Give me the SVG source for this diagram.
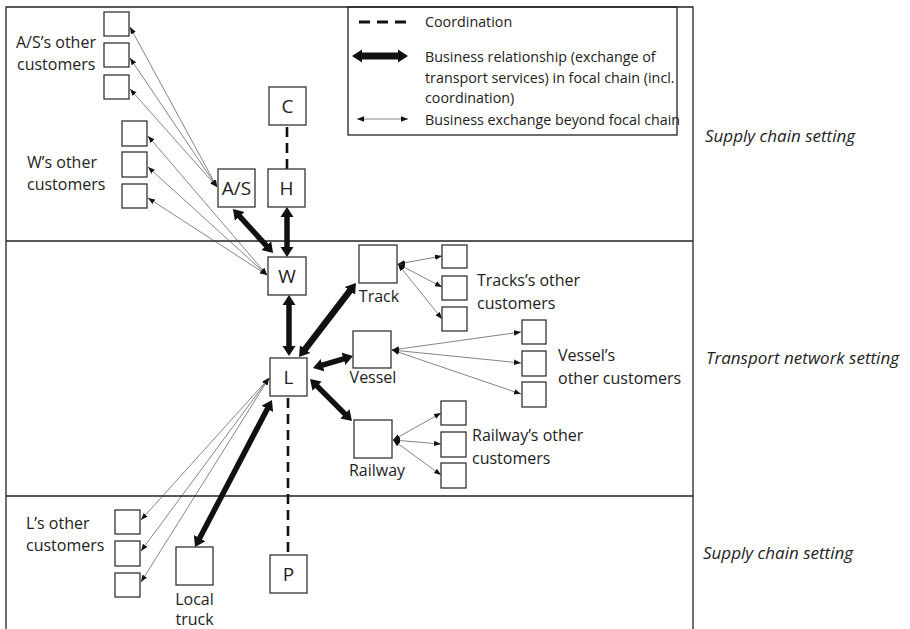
<svg xmlns="http://www.w3.org/2000/svg" width="910" height="629" viewBox="0 0 910 629">
<defs>
<marker id="hb" viewBox="0 -7 10 14" refX="1" refY="0" markerWidth="10" markerHeight="14" markerUnits="userSpaceOnUse" orient="auto-start-reverse"><path d="M0,-6.5 L10,0 L0,6.5 z" fill="#111"/></marker>
<marker id="ht" viewBox="0 -3 7 6" refX="7" refY="0" markerWidth="7" markerHeight="6" markerUnits="userSpaceOnUse" orient="auto-start-reverse"><path d="M0,-2.7 L7,0 L0,2.7 z" fill="#111"/></marker>
</defs>
<style>
.frame{fill:none;stroke:#222;stroke-width:1.3}
.box{fill:#fff;stroke:#333;stroke-width:1.3}
.lbl{font-family:"Open Sans","Liberation Sans",sans-serif;font-size:16px;fill:#222}
.nl{font-family:"Open Sans","Liberation Sans",sans-serif;font-size:19px;fill:#222;text-anchor:middle;dominant-baseline:central}
.leg{font-family:"Open Sans","Liberation Sans",sans-serif;font-size:14.3px;fill:#222}
.set{font-family:"Open Sans","Liberation Sans",sans-serif;font-size:17px;font-style:italic;fill:#222}
.thick{stroke:#111;stroke-width:5.5;fill:none;marker-start:url(#hb);marker-end:url(#hb)}
.thin{stroke:#333;stroke-width:0.6;fill:none;marker-start:url(#ht);marker-end:url(#ht)}
.dash{stroke:#111;stroke-width:2.6;stroke-dasharray:10,6;fill:none}
</style>
<rect width="910" height="629" fill="#fff"/>
<g id="frame">
<path class="frame" d="M6,629 V7 H693 V629 M6,241 H693 M6,496 H693"/>
</g>
<g id="legend">
<rect class="frame" x="348" y="7" width="329" height="128"/>
<line class="dash" x1="359" y1="22" x2="408" y2="22" style="stroke-width:3;stroke-dasharray:11,7"/>
<text class="leg" x="425" y="27">Coordination</text>
<line class="thick" x1="361" y1="56" x2="399" y2="56" style="stroke-width:7"/>
<text class="leg" x="425" y="62">Business relationship (exchange of</text>
<text class="leg" x="425" y="83">transport services) in focal chain (incl.</text>
<text class="leg" x="425" y="103">coordination)</text>
<line class="thin" x1="357" y1="119" x2="408" y2="119"/>
<text class="leg" x="425" y="125">Business exchange beyond focal chain</text>
</g>
<g id="settings">
<text class="set" x="705" y="142">Supply chain setting</text>
<text class="set" x="706" y="364">Transport network setting</text>
<text class="set" x="703" y="559">Supply chain setting</text>
</g>
<g id="connectors">
<line class="dash" x1="287" y1="127" x2="287" y2="169"/>
<line class="dash" x1="288" y1="398" x2="288" y2="555"/>
<line class="thick" x1="239" y1="215.7" x2="267" y2="246.3"/>
<line class="thick" x1="287" y1="216" x2="287" y2="248"/>
<line class="thick" x1="289" y1="304" x2="289" y2="347"/>
<line class="thick" x1="304.5" y1="349.9" x2="350.5" y2="290.1" style="stroke-width:6.5"/>
<line class="thick" x1="321.6" y1="365.4" x2="344.4" y2="358.6"/>
<line class="thick" x1="316.4" y1="385.4" x2="345.6" y2="414.6"/>
<line class="thick" x1="267.8" y1="408" x2="199.2" y2="539"/>
<line class="thin" x1="217" y1="187" x2="130" y2="27"/>
<line class="thin" x1="217" y1="187" x2="130" y2="58"/>
<line class="thin" x1="217" y1="187" x2="130" y2="89"/>
<line class="thin" x1="267" y1="275" x2="148" y2="136"/>
<line class="thin" x1="267" y1="275" x2="148" y2="167"/>
<line class="thin" x1="267" y1="275" x2="148" y2="198"/>
<line class="thin" x1="398" y1="264" x2="442" y2="256"/>
<line class="thin" x1="398" y1="264" x2="442" y2="287"/>
<line class="thin" x1="398" y1="264" x2="442" y2="319"/>
<line class="thin" x1="392" y1="350" x2="521" y2="332"/>
<line class="thin" x1="392" y1="350" x2="521" y2="363"/>
<line class="thin" x1="392" y1="350" x2="521" y2="394"/>
<line class="thin" x1="393" y1="440" x2="441" y2="413"/>
<line class="thin" x1="393" y1="440" x2="441" y2="444"/>
<line class="thin" x1="393" y1="440" x2="441" y2="475"/>
<line class="thin" x1="269" y1="378" x2="141" y2="520"/>
<line class="thin" x1="269" y1="378" x2="141" y2="551"/>
<line class="thin" x1="269" y1="378" x2="141" y2="582"/>
</g>
<g id="node-C"><rect class="box" x="269" y="87" width="37" height="38"/><text class="nl" x="287.5" y="106">C</text></g>
<g id="node-H"><rect class="box" x="268" y="169" width="37" height="38"/><text class="nl" x="286.5" y="188">H</text></g>
<g id="node-AS"><rect class="box" x="218" y="169" width="37" height="38"/><text class="nl" x="236.5" y="188">A/S</text></g>
<g id="node-W"><rect class="box" x="268" y="257" width="38" height="38"/><text class="nl" x="287" y="276">W</text></g>
<g id="node-L"><rect class="box" x="270" y="358" width="37" height="38"/><text class="nl" x="288.5" y="377">L</text></g>
<g id="node-P"><rect class="box" x="270" y="555" width="37" height="38"/><text class="nl" x="288.5" y="574">P</text></g>
<g id="node-track"><rect class="box" x="359" y="245" width="38" height="38"/><text class="lbl" x="379" y="302" text-anchor="middle">Track</text></g>
<g id="node-vessel"><rect class="box" x="353" y="331" width="38" height="37"/><text class="lbl" x="373" y="383" text-anchor="middle">Vessel</text></g>
<g id="node-railway"><rect class="box" x="354" y="420" width="38" height="38"/><text class="lbl" x="377" y="476" text-anchor="middle">Railway</text></g>
<g id="node-localtruck"><rect class="box" x="176" y="547" width="37" height="38"/><text class="lbl" x="194.5" y="605" text-anchor="middle">Local</text><text class="lbl" x="194.5" y="625" text-anchor="middle">truck</text></g>
<g id="as-customers">
<rect class="box" x="104" y="12" width="25" height="24"/>
<rect class="box" x="104" y="43" width="25" height="24"/>
<rect class="box" x="104" y="75" width="25" height="24"/>
<text class="lbl" x="16" y="48">A/S’s other</text>
<text class="lbl" x="17" y="70">customers</text>
</g>
<g id="w-customers">
<rect class="box" x="122" y="121" width="25" height="25"/>
<rect class="box" x="122" y="152" width="25" height="25"/>
<rect class="box" x="122" y="184" width="25" height="24"/>
<text class="lbl" x="27" y="168">W’s other</text>
<text class="lbl" x="27" y="190">customers</text>
</g>
<g id="track-customers">
<rect class="box" x="442" y="245" width="25" height="23"/>
<rect class="box" x="442" y="276" width="25" height="24"/>
<rect class="box" x="442" y="307" width="25" height="24"/>
<text class="lbl" x="477" y="286">Tracks’s other</text>
<text class="lbl" x="477" y="309">customers</text>
</g>
<g id="vessel-customers">
<rect class="box" x="522" y="320" width="24" height="24"/>
<rect class="box" x="522" y="351" width="24" height="25"/>
<rect class="box" x="522" y="382" width="24" height="25"/>
<text class="lbl" x="558" y="361">Vessel’s</text>
<text class="lbl" x="558" y="384">other customers</text>
</g>
<g id="railway-customers">
<rect class="box" x="441" y="401" width="25" height="24"/>
<rect class="box" x="441" y="432" width="25" height="25"/>
<rect class="box" x="441" y="463" width="25" height="25"/>
<text class="lbl" x="472" y="441">Railway’s other</text>
<text class="lbl" x="472" y="464">customers</text>
</g>
<g id="l-customers">
<rect class="box" x="115" y="510" width="25" height="24"/>
<rect class="box" x="115" y="541" width="25" height="25"/>
<rect class="box" x="115" y="573" width="25" height="24"/>
<text class="lbl" x="26" y="529">L’s other</text>
<text class="lbl" x="26" y="551">customers</text>
</g>
</svg>
